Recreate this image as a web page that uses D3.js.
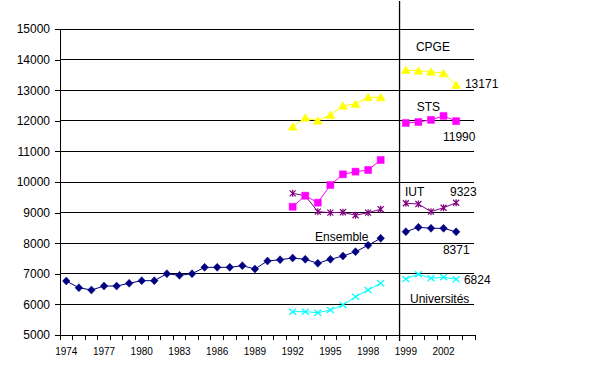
<!DOCTYPE html>
<html><head><meta charset="utf-8">
<script src="https://cdn.jsdelivr.net/npm/d3@7"></script>
<style>body{margin:0;background:#fff}svg{display:block;font-family:"Liberation Sans",Arial,sans-serif}</style>
</head><body><svg id="c" width="592" height="387"></svg>
<script>
// Categories (index-based band axis); left panel 1974-1999, gap, right panel 1999-2003
const categories = ["1974","1975","1976","1977","1978","1979","1980","1981","1982","1983","1984","1985","1986","1987","1988","1989","1990","1991","1992","1993","1994","1995","1996","1997","1998","1999","","1999","2000","2001","2002","2003",""];
const yTicks = [5000,6000,7000,8000,9000,10000,11000,12000,13000,14000,15000];

// Left panel series
const ensembleLeft = [6765,6546,6470,6600,6600,6690,6775,6775,7003,6950,7003,7212,7212,7212,7265,7157,7418,7460,7516,7474,7343,7474,7582,7722,7931,8160];
const cpgeLeft = [11807,12101,12003,12190,12494,12549,12768,12768];
const stsLeft = [9190,9552,9324,9902,10251,10338,10392,10719];
const iutLeft = [9630,9552,9030,8997,9010,8912,8997,9108];
const univLeft = [5762,5762,5729,5817,5980,6252,6470,6690];
// Right panel series (1999-2003)
const ensembleRight = [8376,8520,8487,8487,8371];
const cpgeRight = [13660,13637,13605,13551,13171];
const stsRight = [11930,11960,12030,12160,11990];
const iutRight = [9304,9281,9030,9160,9323];
const univRight = [6830,6984,6853,6885,6824];

const leftStart = {ens:0, other:18};
const rightStart = 27;

const svg = d3.select("#c");
const x = d3.scaleBand().domain(d3.range(categories.length)).range([60,475]).padding(0);
const y = d3.scaleLinear().domain([5000,15000]).range([335,29]);
const cx = i => x(i) + x.bandwidth()/2;
const fx = f => x(0) + (f+0.5)*x.bandwidth();

// gridlines
svg.append("g").selectAll("line").data(yTicks.filter(v=>v>5000)).join("line")
  .attr("x1",60).attr("x2",474).attr("y1",d=>y(d)).attr("y2",d=>y(d))
  .attr("stroke","#000").attr("shape-rendering","crispEdges");

// y axis
const ya = d3.axisLeft(y).tickValues(yTicks).tickSize(5).tickPadding(5).tickFormat(d3.format("d"));
const yg = svg.append("g").attr("transform","translate(60,0)").call(ya);
yg.select(".domain").attr("d",`M0,${y(15000)}V${y(5000)}`).attr("shape-rendering","crispEdges");
yg.selectAll(".tick line").attr("shape-rendering","crispEdges");
yg.selectAll("text").attr("font-size",12).attr("font-family","Liberation Sans, Arial, sans-serif").attr("fill","#000");

// x axis
const xg = svg.append("g").attr("transform",`translate(0,${y(5000)})`);
xg.append("line").attr("x1",60).attr("x2",475).attr("y1",0).attr("y2",0).attr("stroke","#000").attr("shape-rendering","crispEdges");
xg.selectAll(".tk").data(d3.range(categories.length+1)).join("line")
  .attr("x1",i=>x(0)+i*x.bandwidth()).attr("x2",i=>x(0)+i*x.bandwidth())
  .attr("y1",0).attr("y2",5).attr("stroke","#000").attr("shape-rendering","crispEdges");
xg.selectAll(".lb").data(d3.range(categories.length).filter(i=>i%3===0 && categories[i]!=="")).join("text")
  .attr("x",cx).attr("y",20).attr("text-anchor","middle").attr("font-size",10).text(i=>categories[i]);

// divider
svg.append("line").attr("x1",x(rightStart)).attr("x2",x(rightStart)).attr("y1",1).attr("y2",y(5000)+6)
  .attr("stroke","#000").attr("stroke-width",1.3);

// marker paths
const markers = {
  diamond: "M0,-4L3.8,0L0,4L-3.8,0Z",
  triangle: "M0,-4L4.5,3.5L-4.5,3.5Z",
  square: "M-3.5,-3.5H3.5V3.5H-3.5Z",
  star: "M-3,-3L3,3M-3,3L3,-3M0,-3.5V3.5",
  xmark: "M-3.5,-3L3.5,3M-3.5,3L3.5,-3"
};
const line = d3.line().x(d=>cx(d.i)).y(d=>y(d.v));
function series(vals, start, color, mk, filled){
  const pts = vals.map((v,k)=>({i:start+k, v}));
  const g = svg.append("g");
  g.append("path").attr("d",line(pts)).attr("fill","none").attr("stroke",color).attr("stroke-width",1);
  g.selectAll("path.m").data(pts).join("path").attr("class","m")
    .attr("transform",d=>`translate(${cx(d.i)},${y(d.v)})`)
    .attr("d",markers[mk])
    .attr("fill",filled?color:"none").attr("stroke",color).attr("stroke-width",filled?0.5:1.2);
}
const cfg = [
  [univLeft, 18, "#00FFFF","xmark",false],[univRight, rightStart,"#00FFFF","xmark",false],
  [iutLeft, 18, "#800080","star",false],[iutRight, rightStart,"#800080","star",false],
  [cpgeLeft, 18, "#FFFF00","triangle",true],[cpgeRight, rightStart,"#FFFF00","triangle",true],
  [stsLeft, 18, "#FF00FF","square",true],[stsRight, rightStart,"#FF00FF","square",true],
  [ensembleLeft, 0, "#000080","diamond",true],[ensembleRight, rightStart,"#000080","diamond",true]
];
cfg.forEach(c=>series(...c));

// annotations (index position, value position)
const labels = [
  {t:"CPGE", i:27.8, v:14412},
  {t:"13171", i:31.7, v:13219},
  {t:"STS", i:27.86, v:12451},
  {t:"11990", i:29.95, v:11481},
  {t:"IUT", i:26.93, v:9683},
  {t:"9323", i:30.51, v:9683},
  {t:"8371", i:29.95, v:7778},
  {t:"6824", i:31.62, v:6820},
  {t:"Universités", i:27.33, v:6200},
  {t:"Ensemble", i:19.78, v:8213}
];
svg.append("g").selectAll("text").data(labels).join("text")
  .attr("x",d=>x(0)+(d.i+0.5)*x.bandwidth()).attr("y",d=>y(d.v)).attr("dy","0.36em")
  .attr("font-size",12).attr("fill","#000").text(d=>d.t);
</script></body></html>
